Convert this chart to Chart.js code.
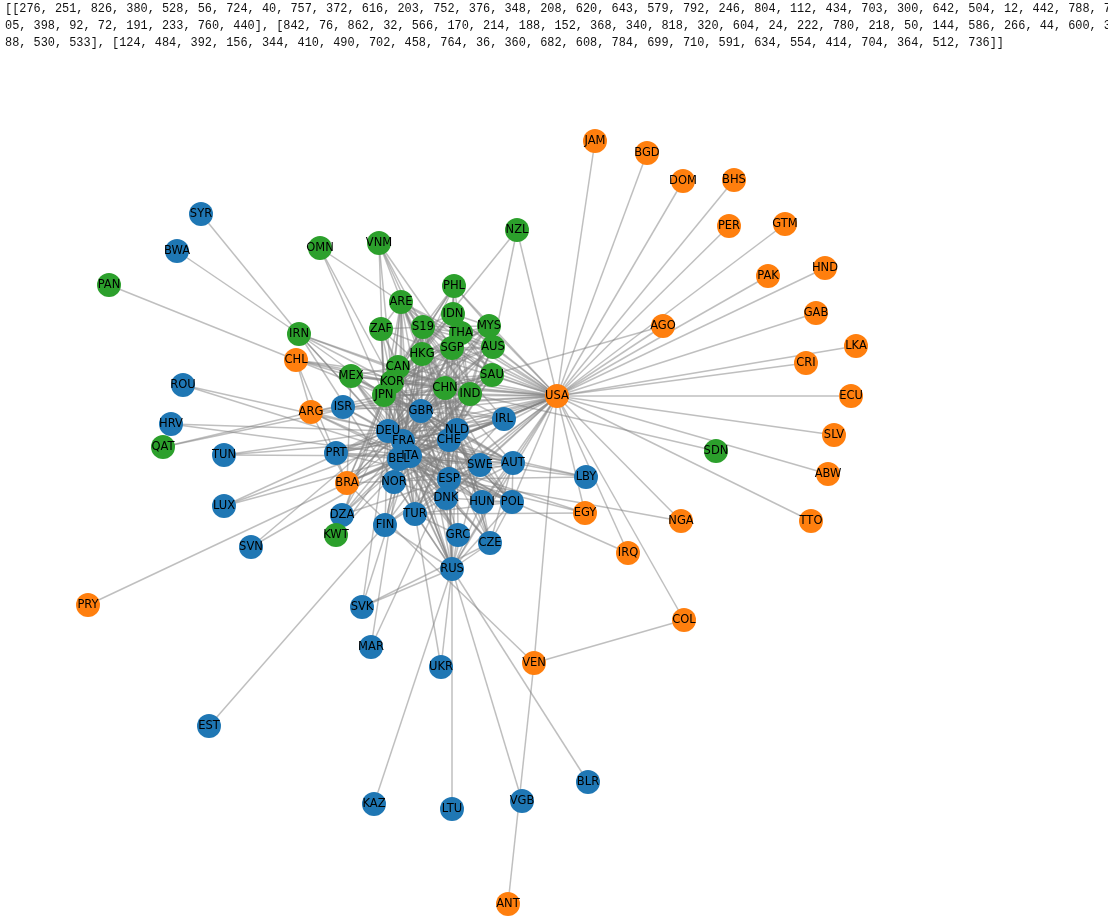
<!DOCTYPE html>
<html>
<head>
<meta charset="utf-8">
<title>Trade network</title>
<script src="https://cdn.jsdelivr.net/npm/chart.js@4"></script>
<style>
  html, body { margin: 0; padding: 0; background: #fff; overflow: hidden; }
  #output { position: absolute; left: 5px; top: 1px; width: 1110px; font: 11.9px/17px "Liberation Mono", monospace; color: #111; word-break: break-all; white-space: pre-wrap; }
  #wrap { position: absolute; left: 0; top: 0; width: 1108px; height: 917px; }
</style>
</head>
<body>
<div id="wrap"><canvas id="myChart" width="1108" height="917"></canvas></div>
<div id="output"></div>
<script>
// printed communities
const blueIds = [276, 251, 826, 380, 528, 56, 724, 40, 757, 372, 616, 203, 752, 376, 348, 208, 620, 643, 579, 792, 246, 804, 112, 434, 703, 300, 642, 504, 12, 442, 788, 705, 398, 92, 72, 191, 233, 760, 440];
const orangeIds = [842, 76, 862, 32, 566, 170, 214, 188, 152, 368, 340, 818, 320, 604, 24, 222, 780, 218, 50, 144, 586, 266, 44, 600, 388, 530, 533];
const greenIds = [124, 484, 392, 156, 344, 410, 490, 702, 458, 764, 36, 360, 682, 608, 784, 699, 710, 591, 634, 554, 414, 704, 364, 512, 736];

// node positions
const blueCodes = ['DEU','FRA','GBR','ITA','NLD','BEL','ESP','AUT','CHE','IRL','POL','CZE','SWE','ISR','HUN','DNK','PRT','RUS','NOR','TUR','FIN','UKR','BLR','LBY','SVK','GRC','ROU','MAR','DZA','LUX','TUN','SVN','KAZ','VGB','BWA','HRV','EST','SYR','LTU'];
const blueX = [388,403,421,410,457,399,449,513,449,504,512,490,480,343,482,446,336,452,394,415,385,441,588,586,362,458,183,371,342,224,224,251,374,522,177,171,209,201,452];
const blueY = [431,441,411,456,430,459,479,463,440,419,502,543,465,407,502,498,453,569,482,514,525,667,782,477,607,535,385,647,515,506,455,547,804,801,251,424,726,214,809];

const orangeCodes = ['USA','BRA','VEN','ARG','NGA','COL','DOM','CRI','CHL','IRQ','HND','EGY','GTM','PER','AGO','SLV','TTO','ECU','BGD','LKA','PAK','GAB','BHS','PRY','JAM','ANT','ABW'];
const orangeX = [557,347,534,311,681,684,683,806,296,628,825,585,785,729,663,834,811,851,647,856,768,816,734,88,595,508,828];
const orangeY = [396,483,663,412,521,620,181,363,360,553,268,513,224,226,326,435,521,396,153,346,276,313,180,605,141,904,474];

const greenCodes = ['CAN','MEX','JPN','CHN','HKG','KOR','S19','SGP','MYS','THA','AUS','IDN','SAU','PHL','ARE','IND','ZAF','PAN','QAT','NZL','KWT','VNM','IRN','OMN','SDN'];
const greenX = [398,351,384,445,422,392,423,452,489,461,493,453,492,454,401,470,381,109,163,517,336,379,299,320,716];
const greenY = [367,376,395,388,354,382,327,348,326,333,347,314,375,286,302,394,329,285,447,230,535,243,334,248,451];

// who is linked to whom, per node
const links = {
  USA: 'JAM BGD DOM BHS PER GTM HND PAK GAB AGO LKA CRI ECU SLV ABW TTO NGA EGY IRQ COL VEN NZL CAN MEX JPN CHN KOR HKG SGP IND SAU AUS MYS THA S19 ARE PHL IDN ZAF GBR DEU FRA NLD BEL ITA CHE IRL ESP SWE AUT BRA ARG CHL DNK NOR TUR RUS POL FIN PRT HUN ISR',
  DEU: 'FRA GBR ITA NLD BEL ESP AUT CHE POL CZE SWE HUN RUS DNK TUR IRL NOR FIN PRT ISR GRC SVK SVN LUX HRV ROU TUN LBY DZA BRA ARG CHN JPN KOR IND S19 MEX ZAF SAU ARE IRN HKG SGP THA MYS AUS CAN',
  FRA: 'GBR ITA NLD BEL ESP CHE POL SWE AUT CZE RUS TUR DNK PRT IRL NOR HUN GRC ISR LUX TUN MAR DZA LBY BRA CHN JPN S19 IND SAU ARE KOR HKG SGP CAN MEX AUS THA',
  GBR: 'NLD ITA BEL ESP IRL CHE SWE NOR DNK POL RUS TUR PRT AUT HUN FIN GRC CZE ISR BRA IND ZAF CHN JPN HKG S19 KOR ARE SAU SGP AUS CAN THA MYS MEX',
  ITA: 'NLD BEL ESP CHE AUT POL RUS TUR GRC HUN CZE SWE DNK PRT IRL DZA LBY TUN SVN HRV ROU IRQ BRA ARG CHN JPN IND SAU S19 SVK IRN EGY HKG KOR MEX ARE',
  NLD: 'BEL ESP CHE IRL NOR SWE AUT DNK POL RUS TUR FIN HUN PRT CZE GRC BRA CHN JPN S19 SAU KOR SGP IND HKG MYS THA ARE IDN AUS MEX',
  BEL: 'ESP CHE IRL SWE AUT POL RUS LUX TUR PRT DNK NOR FIN HUN GRC DZA BRA IND CHN JPN KOR HKG SAU ARE S19 CAN',
  ESP: 'CHE PRT POL AUT SWE IRL TUR RUS DZA MAR LBY NGA EGY BRA ARG MEX CHN JPN KOR S19',
  CHE: 'AUT SWE IRL POL TUR RUS CZE HKG JPN CHN IND S19 DNK HUN KOR SGP ARE THA AUS SAU',
  IRL: 'CHN JPN S19',
  SWE: 'NOR DNK FIN POL RUS AUT CHN JPN',
  AUT: 'POL HUN CZE RUS TUR CHN JPN',
  POL: 'CZE RUS HUN DNK TUR CHN KOR',
  CZE: 'HUN RUS SVK CHN',
  HUN: 'CHN',
  RUS: 'TUR FIN NOR HUN GRC SVK DNK KAZ LTU UKR BLR VGB CHN JPN KOR',
  NOR: 'DNK FIN',
  TUR: 'UKR GRC EGY CHN KOR IND',
  FIN: 'EST',
  BRA: 'ARG CHL PRY VEN CHN JPN KOR MEX',
  ARG: 'CHL CHN',
  CHL: 'PAN CHN JPN KOR MEX',
  VEN: 'COL ANT',
  AGO: 'CHN',
  SDN: 'CHN',
  CAN: 'JPN CHN MEX KOR HKG S19 IND ZAF',
  CHN: 'JPN KOR HKG SGP AUS IND MYS THA IDN PHL VNM SAU ARE ZAF S19 IRN QAT KWT MEX',
  JPN: 'KOR HKG S19 SGP AUS THA IDN MYS PHL SAU ARE IND ZAF VNM OMN IRN QAT KWT MEX NZL',
  KOR: 'HKG S19 SGP AUS MYS THA IDN PHL SAU ARE IND VNM OMN IRN KWT MEX ZAF',
  HKG: 'S19 SGP MYS THA AUS IDN PHL VNM IND ARE',
  S19: 'SGP MYS THA IDN AUS PHL IND VNM ARE ZAF SAU',
  SGP: 'MYS THA IDN AUS PHL IND VNM ARE SAU',
  MYS: 'THA IDN AUS PHL IND',
  THA: 'IDN AUS PHL IND ARE SAU',
  AUS: 'IDN NZL IND',
  IDN: 'IND PHL SAU',
  IND: 'SAU ARE IRN KWT',
  ARE: 'SAU OMN ZAF',
  IRN: 'BWA SYR TUR'
};

const pos = {};
blueCodes.forEach((c, i) => pos[c] = { x: blueX[i], y: blueY[i] });
orangeCodes.forEach((c, i) => pos[c] = { x: orangeX[i], y: orangeY[i] });
greenCodes.forEach((c, i) => pos[c] = { x: greenX[i], y: greenY[i] });

document.getElementById('output').textContent = '[[' + blueIds.join(', ') + '], [' + orangeIds.join(', ') + '], [' + greenIds.join(', ') + ']]';

// each edge is its own dataset so the alpha builds up in the dense middle
const edgeSets = [];
const seen = new Set();
Object.keys(links).forEach(a => {
  links[a].split(' ').forEach(b => {
    const key = [a, b].sort().join('-');
    if (seen.has(key)) return;
    seen.add(key);
    edgeSets.push({
      type: 'line',
      data: [pos[a], pos[b]],
      borderColor: 'rgba(128, 128, 128, 0.5)',
      borderWidth: 1.5,
      pointRadius: 0,
      fill: false,
      order: 10
    });
  });
});

function nodeSet(codes, color, order) {
  return {
    type: 'scatter',
    labels: codes,
    data: codes.map(c => pos[c]),
    backgroundColor: color,
    borderWidth: 0,
    pointRadius: 12,
    pointHoverRadius: 12,
    order: order
  };
}

const nodeLabels = {
  id: 'nodeLabels',
  afterDatasetsDraw(chart) {
    const ctx = chart.ctx;
    ctx.save();
    ctx.font = '11.5px "DejaVu Sans"';
    ctx.fillStyle = '#000';
    ctx.textAlign = 'center';
    ctx.textBaseline = 'middle';
    chart.data.datasets.forEach((ds, i) => {
      if (!ds.labels) return;
      chart.getDatasetMeta(i).data.forEach((pt, j) => ctx.fillText(ds.labels[j], pt.x, pt.y));
    });
    ctx.restore();
  }
};

new Chart(document.getElementById('myChart'), {
  type: 'scatter',
  data: {
    datasets: edgeSets.concat([
      nodeSet(blueCodes, '#1f77b4', 3),
      nodeSet(orangeCodes, '#ff7f0e', 2),
      nodeSet(greenCodes, '#2ca02c', 1)
    ])
  },
  options: {
    responsive: false,
    animation: false,
    layout: { padding: 0, autoPadding: false },
    plugins: { legend: { display: false }, tooltip: { enabled: false } },
    scales: {
      x: { type: 'linear', min: 0, max: 1108, display: false },
      y: { type: 'linear', min: 0, max: 917, reverse: true, display: false }
    }
  },
  plugins: [nodeLabels]
});
</script>
</body>
</html>
